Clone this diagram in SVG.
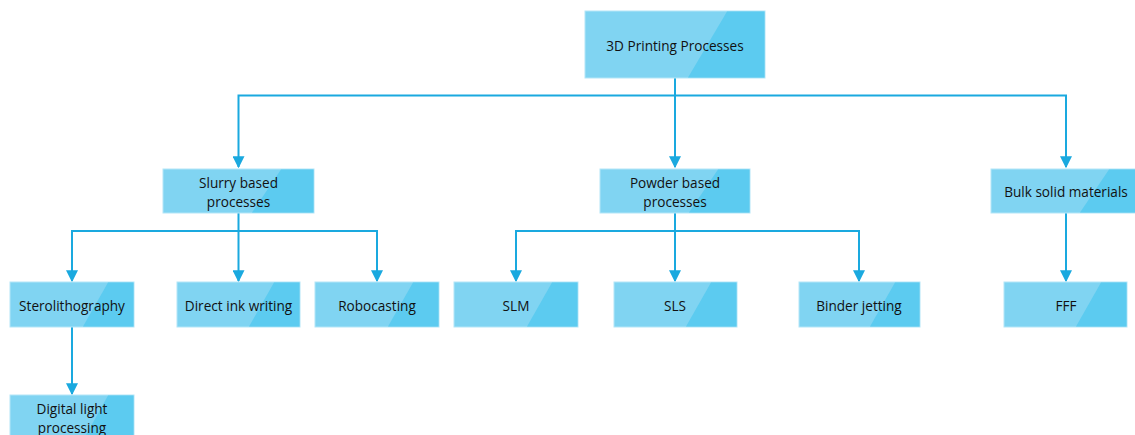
<svg xmlns="http://www.w3.org/2000/svg" width="1135" height="435" viewBox="0 0 1135 435">
  <style>
    .box { fill: #80d4f2; stroke: #b3e6f8; stroke-width: 1; }
    .shade { fill: #5ccbf0; }
    .label { font-family: "Open Sans", "Noto Sans", sans-serif; font-size: 13.6px; fill: #111111; text-anchor: middle; dominant-baseline: central; }
    .wire { fill: none; stroke: #1aa9df; stroke-width: 2; }
  </style>
  <defs>
    <marker id="arrow" viewBox="0 0 10 10" refX="9" refY="5" markerWidth="6" markerHeight="6" orient="auto" markerUnits="strokeWidth">
      <path d="M0,0 L10,5 L0,10 Z" fill="#1aa9df"/>
    </marker>
  </defs>

  <rect width="1135" height="435" fill="#ffffff"/>

  <!-- connectors -->
  <g id="connectors">
    <path class="wire" d="M675,78 V95.5 H238.5 V167" marker-end="url(#arrow)"/>
    <path class="wire" d="M675,95.5 V167" marker-end="url(#arrow)"/>
    <path class="wire" d="M675,95.5 H1066 V167" marker-end="url(#arrow)"/>

    <path class="wire" d="M238.5,213 V231 H72 V281" marker-end="url(#arrow)"/>
    <path class="wire" d="M238.5,231 V281" marker-end="url(#arrow)"/>
    <path class="wire" d="M238.5,231 H377 V281" marker-end="url(#arrow)"/>

    <path class="wire" d="M675,213 V231 H516 V281" marker-end="url(#arrow)"/>
    <path class="wire" d="M675,231 V281" marker-end="url(#arrow)"/>
    <path class="wire" d="M675,231 H859 V281" marker-end="url(#arrow)"/>

    <path class="wire" d="M1066,213 V281" marker-end="url(#arrow)"/>

    <path class="wire" d="M72,327 V394" marker-end="url(#arrow)"/>
  </g>

  <!-- root -->
  <g id="root">
    <rect class="box" x="585" y="11" width="180" height="67"/>
    <polygon class="shade" points="727,11.5 764.5,11.5 764.5,77.5 688,77.5"/>
    <text class="label" x="675" y="45">3D Printing Processes</text>
  </g>

  <!-- second level -->
  <g id="slurry">
    <rect class="box" x="163" y="169" width="151" height="44"/>
    <polygon class="shade" points="281,169.5 313.5,169.5 313.5,212.5 252,212.5"/>
    <text class="label" x="238.5" y="182">Slurry based</text>
    <text class="label" x="238.5" y="201">processes</text>
  </g>
  <g id="powder">
    <rect class="box" x="600" y="169" width="150" height="44"/>
    <polygon class="shade" points="718,169.5 749.5,169.5 749.5,212.5 689,212.5"/>
    <text class="label" x="675" y="182">Powder based</text>
    <text class="label" x="675" y="201">processes</text>
  </g>
  <g id="bulk">
    <rect class="box" x="991" y="169" width="150" height="44"/>
    <polygon class="shade" points="1109,169.5 1140.5,169.5 1140.5,212.5 1080,212.5"/>
    <text class="label" x="1066" y="191">Bulk solid materials</text>
  </g>

  <!-- third level -->
  <g id="sterolithography">
    <rect class="box" x="10" y="282" width="124" height="45"/>
    <polygon class="shade" points="108,282.5 133.5,282.5 133.5,326.5 83,326.5"/>
    <text class="label" x="72" y="305">Sterolithography</text>
  </g>
  <g id="direct-ink-writing">
    <rect class="box" x="177" y="282" width="123" height="45"/>
    <polygon class="shade" points="274,282.5 299.5,282.5 299.5,326.5 249,326.5"/>
    <text class="label" x="238.5" y="305">Direct ink writing</text>
  </g>
  <g id="robocasting">
    <rect class="box" x="315" y="282" width="124" height="45"/>
    <polygon class="shade" points="413,282.5 438.5,282.5 438.5,326.5 388,326.5"/>
    <text class="label" x="377" y="305">Robocasting</text>
  </g>
  <g id="slm">
    <rect class="box" x="454" y="282" width="124" height="45"/>
    <polygon class="shade" points="552,282.5 577.5,282.5 577.5,326.5 527,326.5"/>
    <text class="label" x="516" y="305">SLM</text>
  </g>
  <g id="sls">
    <rect class="box" x="614" y="282" width="123" height="45"/>
    <polygon class="shade" points="711,282.5 736.5,282.5 736.5,326.5 686,326.5"/>
    <text class="label" x="675" y="305">SLS</text>
  </g>
  <g id="binder-jetting">
    <rect class="box" x="799" y="282" width="121" height="45"/>
    <polygon class="shade" points="895,282.5 919.5,282.5 919.5,326.5 870,326.5"/>
    <text class="label" x="859" y="305">Binder jetting</text>
  </g>
  <g id="fff">
    <rect class="box" x="1004" y="282" width="123" height="45"/>
    <polygon class="shade" points="1101,282.5 1126.5,282.5 1126.5,326.5 1076,326.5"/>
    <text class="label" x="1066" y="305">FFF</text>
  </g>

  <!-- fourth level -->
  <g id="digital-light-processing">
    <rect class="box" x="10" y="395" width="124" height="46"/>
    <polygon class="shade" points="108,395.5 133.5,395.5 133.5,440.5 83,440.5"/>
    <text class="label" x="72" y="408">Digital light</text>
    <text class="label" x="72" y="427">processing</text>
  </g>
</svg>
